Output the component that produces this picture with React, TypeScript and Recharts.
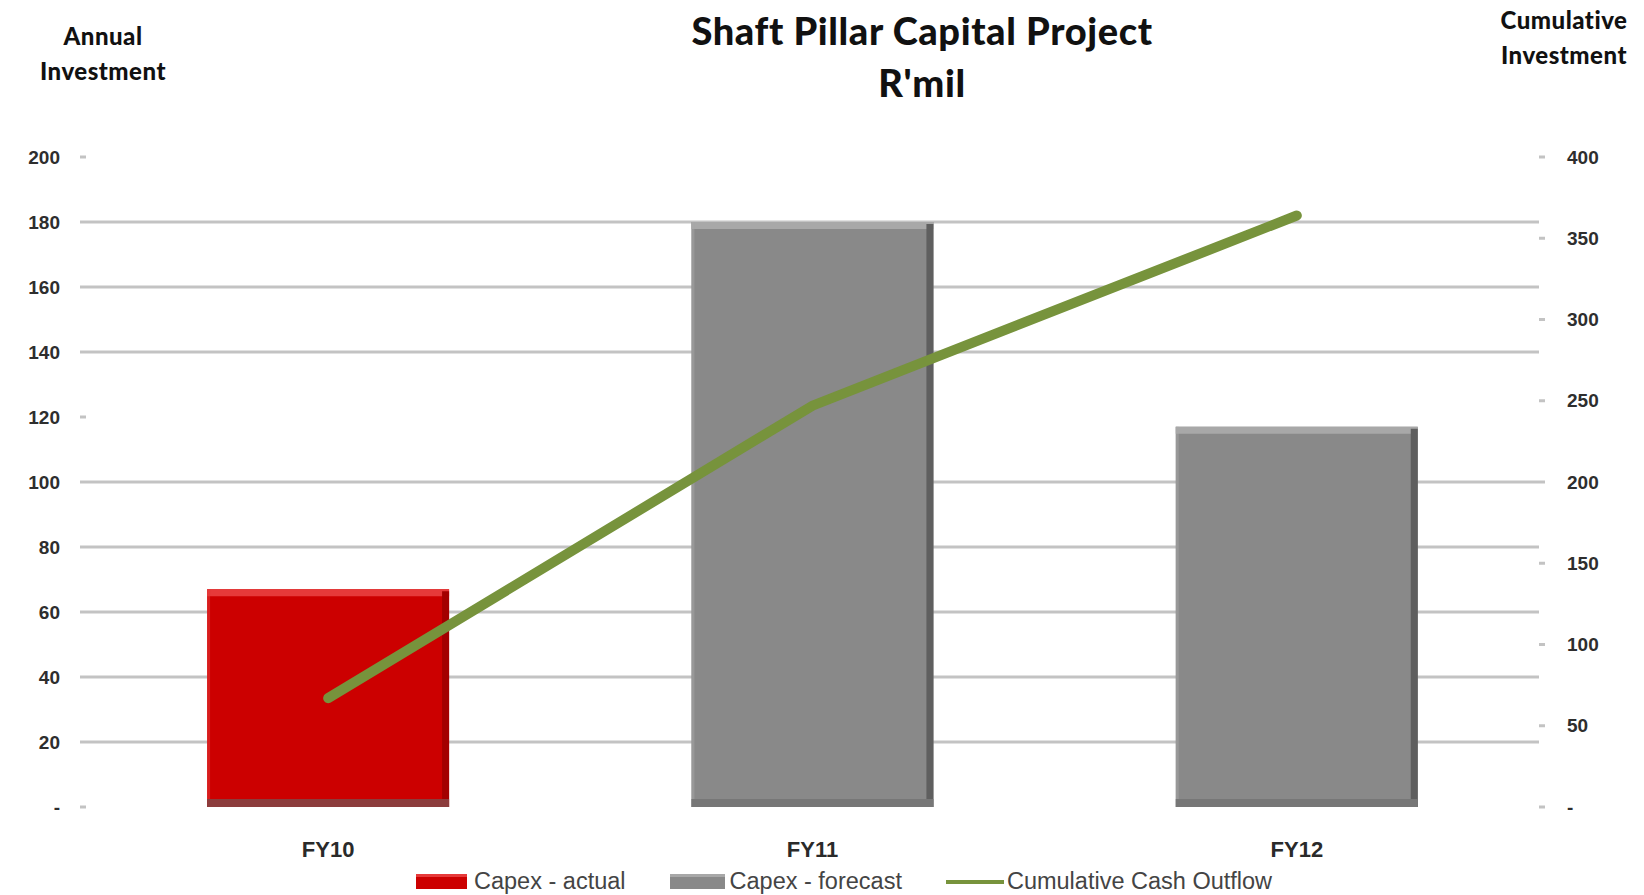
import { Bar, CartesianGrid, ComposedChart, Line, XAxis, YAxis } from "recharts";

const years = ["FY10", "FY11", "FY12"];
const capexActual = [67, null, null];
const capexForecast = [null, 180, 117];
const cumulativeOutflow = [67, 247, 364];

const leftTicks = [0, 20, 40, 60, 80, 100, 120, 140, 160, 180, 200];
const rightTicks = [0, 50, 100, 150, 200, 250, 300, 350, 400];
const gridValues = [20, 40, 60, 80, 100, 140, 160, 180];

const seriesNames = {
  actual: "Capex - actual",
  forecast: "Capex - forecast",
  cumulative: "Cumulative Cash Outflow",
};

const data = years.map((year, i) => ({
  year,
  actual: capexActual[i],
  forecast: capexForecast[i],
  cumulative: cumulativeOutflow[i],
}));

const RED = { main: "#CC0000", light: "#E63A3A", dark: "#A30000", base: "#8C3C3C" };
const GREY = { main: "#898989", light: "#A8A8A8", dark: "#5F5F5F", base: "#777777" };
const GREEN = "#77933C";

const tickFont = {
  fontFamily: "'Liberation Sans Narrow', 'Liberation Sans', sans-serif",
  fontWeight: 700,
  fontSize: 19,
  fill: "#2E2E2E",
};

function makeBevel(c: typeof RED) {
  return (props: any) => {
    const { x, y, width, height } = props;
    if (!height || height <= 0) return <g />;
    const t = 7;
    return (
      <g>
        <rect x={x} y={y} width={width} height={height} fill={c.main} />
        <rect x={x} y={y} width={width} height={t} fill={c.light} />
        <rect x={x} y={y} width={3} height={height} fill={c.light} opacity={0.5} />
        <rect x={x + width - t} y={y + 2} width={t} height={height - 2} fill={c.dark} />
        <rect x={x} y={y + height - 8} width={width} height={8} fill={c.base} />
      </g>
    );
  };
}

function XTick(props: any) {
  const { x, y, payload } = props;
  return (
    <text
      x={x}
      y={y + 42}
      textAnchor="middle"
      style={{ ...tickFont, fontSize: 22, fill: "#2A2A2A" }}
    >
      {payload.value}
    </text>
  );
}

const zeroDash = (v: number) => (v === 0 ? "-" : String(v));

const headFont = {
  fontFamily: "Lato, 'Open Sans', sans-serif",
  fontWeight: 900,
  color: "#111",
};

function LegendRow() {
  const text = {
    fontFamily: "'Liberation Sans Narrow', 'Liberation Sans', sans-serif",
    fontSize: 23.5,
    color: "#444",
  };
  return (
    <div
      style={{
        position: "absolute",
        left: 416,
        top: 868,
        display: "flex",
        alignItems: "center",
        whiteSpace: "nowrap",
        ...text,
      }}
    >
      <span style={{ width: 51, height: 15, background: RED.main, borderTop: `3px solid ${RED.light}`, boxSizing: "border-box", marginRight: 7 }} />
      <span style={{ marginRight: 44 }}>{seriesNames.actual}</span>
      <span style={{ width: 55, height: 15, background: GREY.main, borderTop: `3px solid ${GREY.light}`, boxSizing: "border-box", marginRight: 5 }} />
      <span style={{ marginRight: 44 }}>{seriesNames.forecast}</span>
      <span style={{ width: 58, height: 4, background: GREEN, marginRight: 3 }} />
      <span>{seriesNames.cumulative}</span>
    </div>
  );
}

export default function App() {
  return (
    <div style={{ position: "absolute", left: 0, top: 0, width: 1644, height: 895, background: "#fff" }}>
      <div style={{ position: "absolute", left: 0, width: 1644, top: 4, textAlign: "center", paddingLeft: 200, boxSizing: "border-box", fontSize: 38, lineHeight: "52px", ...headFont, letterSpacing: 0.6 }}>
        <div>Shaft Pillar Capital Project</div>
        <div>R'mil</div>
      </div>
      <div style={{ position: "absolute", left: 3, top: 18, width: 200, textAlign: "center", fontSize: 24, lineHeight: "35px", ...headFont, letterSpacing: 0.5 }}>
        Annual
        <br />
        Investment
      </div>
      <div style={{ position: "absolute", left: 1484, top: 2, width: 160, textAlign: "center", fontSize: 24, lineHeight: "35px", ...headFont, letterSpacing: 0.5 }}>
        Cumulative
        <br />
        Investment
      </div>
      <ComposedChart
        width={1644}
        height={895}
        data={data}
        margin={{ top: 157, right: 0, bottom: 0, left: 0 }}
        barCategoryGap="25%"
      >
        <CartesianGrid
          horizontalValues={gridValues}
          vertical={false}
          stroke="#C3C3C3"
          strokeWidth={3}
          yAxisId="left"
        />
        <XAxis
          dataKey="year"
          height={88}
          axisLine={false}
          tickLine={false}
          tick={<XTick />}
          interval={0}
        />
        <YAxis
          yAxisId="left"
          orientation="left"
          width={86}
          domain={[0, 200]}
          ticks={leftTicks}
          tickFormatter={zeroDash}
          axisLine={false}
          tickLine={{ stroke: "#C3C3C3", strokeWidth: 3 }}
          tickSize={6}
          tickMargin={20}
          tick={tickFont}
        />
        <YAxis
          yAxisId="right"
          orientation="right"
          width={105}
          domain={[0, 400]}
          ticks={rightTicks}
          tickFormatter={zeroDash}
          axisLine={false}
          tickLine={{ stroke: "#C3C3C3", strokeWidth: 3 }}
          tickSize={6}
          tickMargin={22}
          tick={{ ...tickFont, textAnchor: "start" }}
        />
        <Bar
          yAxisId="left"
          dataKey="actual"
          name={seriesNames.actual}
          stackId="capex"
          fill={RED.main}
          shape={makeBevel(RED)}
          isAnimationActive={false}
        />
        <Bar
          yAxisId="left"
          dataKey="forecast"
          name={seriesNames.forecast}
          stackId="capex"
          fill={GREY.main}
          shape={makeBevel(GREY)}
          isAnimationActive={false}
        />
        <Line
          yAxisId="right"
          dataKey="cumulative"
          name={seriesNames.cumulative}
          type="linear"
          stroke={GREEN}
          strokeWidth={10}
          strokeLinecap="round"
          dot={false}
          activeDot={false}
          isAnimationActive={false}
        />
      </ComposedChart>
      <LegendRow />
    </div>
  );
}
